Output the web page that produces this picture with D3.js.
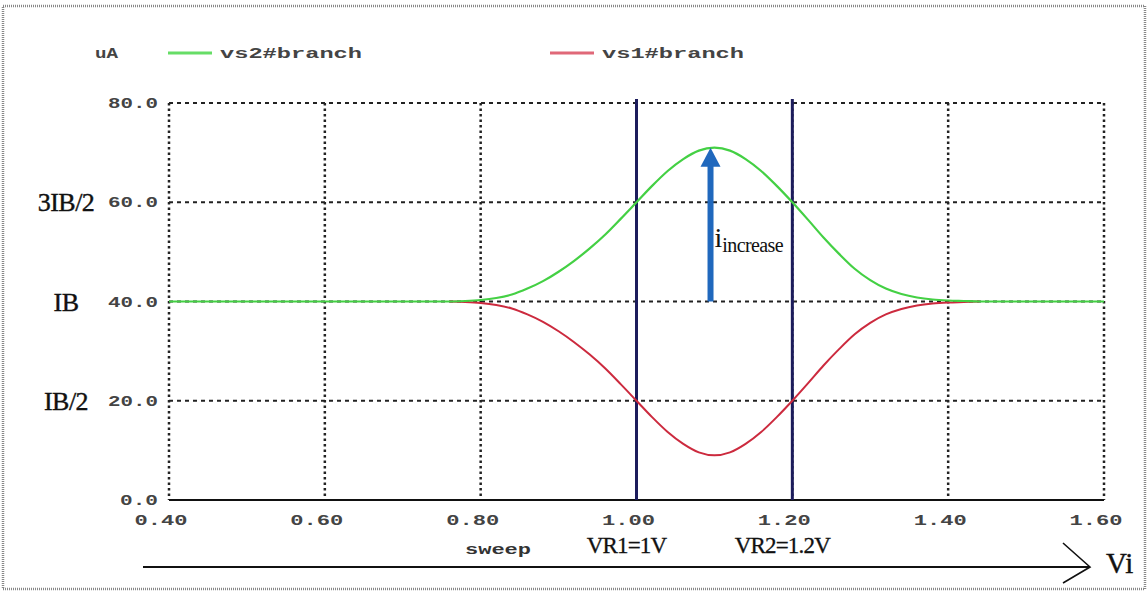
<!DOCTYPE html>
<html>
<head>
<meta charset="utf-8">
<script src="https://cdn.jsdelivr.net/npm/d3@7"></script>
<style>
  body { margin: 0; background: #fff; }
  svg { display: block; }
</style>
</head>
<body>
<script>
// sweep values (V) and branch currents (uA)
const sweepX = [0.76, 0.78, 0.80, 0.82, 0.84, 0.86, 0.88, 0.90, 0.92, 0.94, 0.96, 0.98,
  1.00, 1.02, 1.04, 1.06, 1.08, 1.10, 1.12, 1.14, 1.16, 1.18, 1.20, 1.22, 1.24, 1.26,
  1.28, 1.30, 1.32, 1.34, 1.36, 1.38, 1.40, 1.42, 1.44]
const vs2 = [40.0, 40.1, 40.3, 40.7, 41.4, 42.6, 44.1, 46.0, 48.2, 50.7, 53.5, 56.7,
  60.0, 63.3, 66.3, 68.7, 70.4, 71.0, 70.4, 68.7, 66.3, 63.3, 60.0, 56.5, 52.9, 49.6,
  46.6, 44.3, 42.6, 41.5, 40.8, 40.4, 40.2, 40.1, 40.0]
const vs1 = [40.0, 39.9, 39.7, 39.3, 38.6, 37.4, 35.9, 34.0, 31.8, 29.3, 26.5, 23.3,
  20.0, 16.7, 13.7, 11.3, 9.6, 9.0, 9.6, 11.3, 13.7, 16.7, 20.0, 23.5, 27.1, 30.4,
  33.4, 35.7, 37.4, 38.5, 39.2, 39.6, 39.8, 39.9, 40.0]
// vs2 is flat at IB outside the sweep window
const vs2Left = [[0.40, 40.0]]
const vs2Right = [[1.60, 40.0]]

const xTicks = [0.40, 0.60, 0.80, 1.00, 1.20, 1.40, 1.60]
const yTicks = [0, 20, 40, 60, 80]
const yNames = [[60, "3IB/2"], [40, "IB"], [20, "IB/2"]]
const vrLines = [[1.00, "VR1=1V"], [1.20, "VR2=1.2V"]]
const peak = [1.095, 40, 71]   // x, from, to of the i_increase arrow

const W = 1148, H = 595
const svg = d3.select("body").append("svg")
  .attr("width", W)
  .attr("height", H)

const x = d3.scaleLinear().domain([0.4, 1.6]).range([169, 1104])
const y = d3.scaleLinear().domain([0, 80]).range([500, 103])

const mono = "'Liberation Mono', 'DejaVu Sans Mono', monospace"
const serif = "'Liberation Serif', 'DejaVu Serif', serif"

// frame around the picture
svg.append("rect")
  .attr("x", 3).attr("y", 6)
  .attr("width", W - 6).attr("height", H - 12)
  .attr("fill", "none")
  .attr("stroke", "#888")
  .attr("stroke-width", 2.5)
  .attr("stroke-dasharray", "1,1")

// grid
const grid = svg.append("g")
grid.selectAll(".hg").data(yTicks.filter(d => d > 0)).join("line")
  .attr("x1", x(0.4)).attr("x2", x(1.6))
  .attr("y1", d => y(d)).attr("y2", d => y(d))
  .attr("stroke", "#222")
  .attr("stroke-width", 2)
  .attr("stroke-dasharray", "4,4")
grid.selectAll(".vg").data(xTicks).join("line")
  .attr("x1", d => x(d)).attr("x2", d => x(d))
  .attr("y1", y(80)).attr("y2", y(0))
  .attr("stroke", "#222")
  .attr("stroke-width", 2.5)
  .attr("stroke-dasharray", "2.5,3")
svg.append("line")
  .attr("x1", x(0.4)).attr("x2", x(1.6))
  .attr("y1", y(0)).attr("y2", y(0))
  .attr("stroke", "#111")
  .attr("stroke-width", 2)

// tick labels
svg.append("g").selectAll("text").data(yTicks).join("text")
  .attr("x", 158)
  .attr("y", d => y(d) + 5)
  .attr("text-anchor", "end")
  .attr("font-family", mono)
  .attr("font-weight", "bold")
  .attr("font-size", 14)
  .attr("fill", "#444")
  .attr("textLength", d => d >= 10 ? 50 : 38)
  .attr("lengthAdjust", "spacingAndGlyphs")
  .text(d => d3.format(".1f")(d))

svg.append("g").selectAll("text").data(xTicks).join("text")
  .attr("x", d => x(d) - 8)
  .attr("y", 525)
  .attr("text-anchor", "middle")
  .attr("font-family", mono)
  .attr("font-weight", "bold")
  .attr("font-size", 14)
  .attr("fill", "#444")
  .attr("textLength", 53)
  .attr("lengthAdjust", "spacingAndGlyphs")
  .text(d => d3.format(".2f")(d))

svg.append("text")
  .attr("x", 498).attr("y", 554)
  .attr("text-anchor", "middle")
  .attr("font-family", mono)
  .attr("font-weight", "bold")
  .attr("font-size", 14)
  .attr("fill", "#333")
  .attr("textLength", 66)
  .attr("lengthAdjust", "spacingAndGlyphs")
  .text("sweep")

// IB names on the left
svg.append("g").selectAll("text").data(yNames).join("text")
  .attr("x", 66)
  .attr("y", d => y(d[0]) + 9)
  .attr("text-anchor", "middle")
  .attr("font-family", serif)
  .attr("font-size", 26)
  .attr("fill", "#111")
  .attr("stroke", "#111")
  .attr("stroke-width", 0.4)
  .attr("letter-spacing", -0.5)
  .text(d => d[1])

// reference voltages
svg.append("g").selectAll("line").data(vrLines).join("line")
  .attr("x1", d => x(d[0])).attr("x2", d => x(d[0]))
  .attr("y1", y(80) - 4).attr("y2", y(0))
  .attr("stroke", "#1c1c5c")
  .attr("stroke-width", 3)
svg.append("g").selectAll("text").data(vrLines).join("text")
  .attr("x", d => x(d[0]) - 10)
  .attr("y", 553)
  .attr("text-anchor", "middle")
  .attr("font-family", serif)
  .attr("font-size", 23)
  .attr("fill", "#111")
  .attr("stroke", "#111")
  .attr("stroke-width", 0.3)
  .attr("letter-spacing", -0.8)
  .text(d => d[1])

// curves
const line = d3.line()
  .x(d => x(d[0]))
  .y(d => y(d[1]))
  .curve(d3.curveMonotoneX)
const green = vs2Left.concat(sweepX.map((v, i) => [v, vs2[i]]), vs2Right)
const red = sweepX.map((v, i) => [v, vs1[i]])
svg.append("path").attr("d", line(red))
  .attr("fill", "none").attr("stroke", "#cc2a3e").attr("stroke-width", 2)
svg.append("path").attr("d", line(green))
  .attr("fill", "none").attr("stroke", "#44d044").attr("stroke-width", 2.2)

// i increase arrow
const ax = x(peak[0])
svg.append("line")
  .attr("x1", ax).attr("x2", ax)
  .attr("y1", y(peak[1])).attr("y2", y(peak[2]) + 18)
  .attr("stroke", "#2068bd")
  .attr("stroke-width", 6)
svg.append("path")
  .attr("d", `M${ax - 10},${y(peak[2]) + 19} L${ax},${y(peak[2])} L${ax + 10},${y(peak[2]) + 19} Z`)
  .attr("fill", "#2068bd")
const lab = svg.append("text")
  .attr("x", ax + 4).attr("y", 247)
  .attr("font-family", serif)
  .attr("fill", "#111")
lab.append("tspan").attr("font-size", 28).text("i")
lab.append("tspan").attr("font-size", 20).attr("dy", 5).attr("letter-spacing", -0.6).text("increase")

// legend
svg.append("text")
  .attr("x", 95).attr("y", 58)
  .attr("font-family", mono).attr("font-weight", "bold").attr("font-size", 14)
  .attr("fill", "#444")
  .attr("textLength", 23).attr("lengthAdjust", "spacingAndGlyphs")
  .text("uA")
const legend = [["vs2#branch", "#66dd66", 168], ["vs1#branch", "#e06878", 550]]
const lg = svg.append("g").selectAll("g").data(legend).join("g")
lg.append("line")
  .attr("x1", d => d[2]).attr("x2", d => d[2] + 44)
  .attr("y1", 53).attr("y2", 53)
  .attr("stroke", d => d[1]).attr("stroke-width", 3)
lg.append("text")
  .attr("x", d => d[2] + 52).attr("y", 58)
  .attr("font-family", mono).attr("font-weight", "bold").attr("font-size", 14)
  .attr("fill", "#444")
  .attr("textLength", 142).attr("lengthAdjust", "spacingAndGlyphs")
  .text(d => d[0])

// Vi axis arrow at the bottom
svg.append("line")
  .attr("x1", 143).attr("x2", 1090)
  .attr("y1", 567).attr("y2", 567)
  .attr("stroke", "#111").attr("stroke-width", 2)
svg.append("path")
  .attr("d", "M1063,543 L1090,567 L1063,583")
  .attr("fill", "none").attr("stroke", "#111").attr("stroke-width", 1.6)
svg.append("text")
  .attr("x", 1106).attr("y", 573)
  .attr("font-family", serif).attr("font-size", 29)
  .attr("fill", "#111")
  .attr("stroke", "#111").attr("stroke-width", 0.4)
  .text("Vi")
</script>
</body>
</html>
